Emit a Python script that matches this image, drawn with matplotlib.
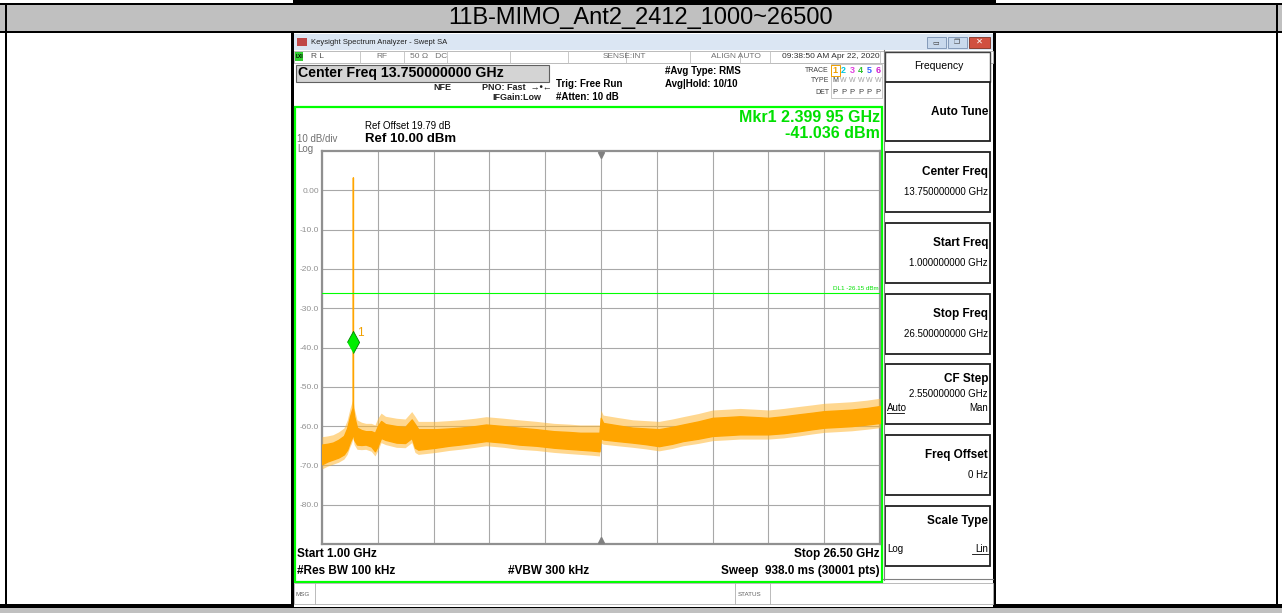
import matplotlib
matplotlib.use('Agg')
import matplotlib.pyplot as plt
import matplotlib.transforms as mtransforms
from matplotlib.patches import Rectangle

plt.rcParams['font.family'] = ['Liberation Sans', 'DejaVu Sans']

# --- values ---
title = '11B-MIMO_Ant2_2412_1000~26500'
start_ghz, stop_ghz = 1.0, 26.5
ref_level, bottom_level = 10.0, -90.0
y_labels = [0, -10, -20, -30, -40, -50, -60, -70, -80]
mkr_freq, mkr_level = 2.39995, -41.036
dl_level = -26.15

# trace: frequency (GHz), lower and upper edge of the dense noise band (dBm)
freq = [1.00, 1.25, 1.50, 1.75, 2.00, 2.15, 2.28, 2.36, 2.405, 2.412,
        2.419, 2.47, 2.60, 2.80, 3.00, 3.25, 3.42, 3.55, 3.70, 3.90,
        4.40, 4.80, 5.10, 5.25, 5.40, 6.20, 6.80, 7.30, 8.00, 8.50,
        9.30, 10.00, 10.80, 11.60, 12.30, 12.80, 13.30, 13.68, 13.74, 13.85,
        14.50, 15.20, 15.80, 16.40, 17.00, 17.50, 18.20, 18.85, 19.50, 20.10,
        20.80, 21.40, 22.10, 22.80, 23.40, 23.95, 24.60, 25.20, 25.90, 26.50]
low = [-69.7, -69.0, -68.5, -68.0, -67.2, -66.0, -64.0, -63.0, -62.0, -61.5,
       -62.0, -63.5, -64.7, -64.8, -64.7, -65.2, -66.4, -65.0, -63.0, -63.5,
       -64.2, -64.3, -63.0, -65.5, -66.0, -65.5, -65.0, -64.7, -64.2, -63.8,
       -64.2, -64.7, -65.0, -65.5, -65.8, -66.0, -66.2, -66.4, -63.0, -63.4,
       -63.8, -64.2, -64.6, -65.1, -64.5, -63.8, -63.2, -62.5, -62.3, -62.1,
       -62.1, -62.1, -61.8, -61.3, -60.8, -60.4, -60.2, -60.0, -59.6, -59.2]
high = [-64.7, -64.5, -64.2, -63.5, -62.5, -60.5, -57.5, -56.0, -55.3, 3.3,
        -55.3, -57.5, -60.4, -61.0, -61.3, -61.3, -61.7, -60.0, -58.7, -59.5,
        -60.0, -60.2, -58.3, -59.5, -60.8, -60.8, -60.6, -60.4, -60.0, -59.6,
        -60.0, -60.4, -60.8, -61.3, -61.5, -61.7, -61.7, -61.7, -57.9, -59.2,
        -59.8, -60.4, -60.6, -60.8, -60.2, -59.6, -58.8, -57.9, -57.7, -57.5,
        -57.7, -57.9, -57.5, -57.0, -56.6, -56.2, -56.0, -55.8, -55.4, -54.9]
spike_up, spike_down = 2.0, 1.2   # how far the sparse noise spikes reach past the band (dB)

softkeys = [('Center Freq', '13.750000000 GHz'), ('Start Freq', '1.000000000 GHz'),
            ('Stop Freq', '26.500000000 GHz'), ('CF Step', '2.550000000 GHz'),
            ('Freq Offset', '0 Hz'), ('Scale Type', '')]
trace_colors = ['#f0a000', '#00c8e0', '#e040e0', '#30c030', '#3060ff', '#d020d0']

W, H = 1282, 613
fig = plt.figure(figsize=(W / 100, H / 100), dpi=100)
bg = fig.add_axes([0, 0, 1, 1], zorder=0)
bg.set_xlim(0, W)
bg.set_ylim(H, 0)
bg.axis('off')

def rect(x, y, w, h, fc='none', ec='none', lw=0.0, **kw):
    bg.add_patch(Rectangle((x, y), w, h, facecolor=fc, edgecolor=ec, lw=lw, **kw))

def txt(x, y, s, size=7, **kw):
    kw.setdefault('va', 'center')
    bg.text(x, y, s, fontsize=size, **kw)

# report table around the screenshot
rect(0, 0, W, H, fc='white')
rect(293, 0, 703, 4, fc='black')
rect(0, 4, W, 28, fc='#c0c0c0')
rect(0, 3, W, 1.5, fc='black')
rect(0, 31, W, 2, fc='black')
rect(0, 604, W, 4, fc='black')
rect(0, 608, W, 5, fc='#c0c0c0')
rect(5, 3, 2, 603, fc='black')
rect(1276, 3, 2, 603, fc='black')
txt(641, 18, title, size=17, ha='center')

# screenshot frame
rect(291, 33, 705, 574, fc='white')
rect(291, 33, 3, 574, fc='black')
rect(993, 33, 3, 574, fc='black')

# window title bar
rect(294, 34, 699, 16, fc='#dbe6f3')
rect(297, 38, 10, 8, fc='#c04848')
txt(311, 42, 'Keysight Spectrum Analyzer - Swept SA', size=5.5, color='#202020')
rect(927, 37, 19, 11, fc='#c9d9ec', ec='#7890b0', lw=0.6)
rect(948, 37, 19, 11, fc='#c9d9ec', ec='#7890b0', lw=0.6)
rect(969, 37, 21, 11, fc='#d05040', ec='#803020', lw=0.6)
txt(936, 43, '▭', size=5, ha='center', color='#404040')
txt(957, 43, '❐', size=5, ha='center', color='#404040')
txt(979, 42.5, '✕', size=6, ha='center', color='white', weight='bold')

# status row
rect(294, 51, 699, 12, fc='white', ec='#b0b0b0', lw=0.6)
for xs in [360, 404, 447, 510, 568, 626, 690, 740, 770, 880]:
    bg.plot([xs, xs], [51, 63], color='#c0c0c0', lw=0.6)
rect(295, 52, 8, 9, fc='#30d030')
txt(299, 57, 'LXI', size=3.5, ha='center', color='black', weight='bold')
txt(311, 57, 'R L', size=6, color='#505050')
txt(376, 57, 'RF', size=6, color='#707070')
txt(410, 57, '50 Ω   DC', size=6, color='#707070')
txt(603, 57, 'SENSE:INT', size=6, color='#707070')
txt(711, 57, 'ALIGN AUTO', size=6, color='#707070')
txt(782, 57, '09:38:50 AM Apr 22, 2020', size=6, color='#303030')

# settings header
rect(296, 65, 253, 17, fc='#d4d4d4', ec='#606060', lw=0.8)
txt(298, 73.5, 'Center Freq 13.750000000 GHz', size=10.2, weight='bold')
txt(433, 87, 'NFE', size=6.5, weight='bold', color='#202020')
txt(482, 87, 'PNO: Fast  →•←', size=6.5, weight='bold', color='#202020')
txt(492, 98, 'IFGain:Low', size=6.5, weight='bold', color='#202020')
txt(556, 84, 'Trig: Free Run', size=7, weight='bold')
txt(556, 97, '#Atten: 10 dB', size=7, weight='bold')
txt(665, 71, '#Avg Type: RMS', size=7, weight='bold')
txt(665, 84, 'Avg|Hold: 10/10', size=7, weight='bold')
txt(829, 70, 'TRACE', size=5, ha='right', color='#404040')
txt(829, 81, 'TYPE', size=5, ha='right', color='#404040')
txt(829, 92, 'DET', size=5, ha='right', color='#404040')
rect(831, 64, 51, 34, fc='white', ec='#b0b0b0', lw=0.5)
for i, c in enumerate(trace_colors):
    txt(835 + i * 8.6, 70.5, str(i + 1), size=6.5, ha='center', color=c, weight='bold')
    txt(835 + i * 8.6, 81, 'M' if i == 0 else 'W', size=5, ha='center', color='#404040' if i == 0 else '#a0a0a0')
    txt(835 + i * 8.6, 92, 'P', size=5.5, ha='center', color='#404040')
rect(830.5, 64.5, 9, 11, ec='#f0a000', lw=0.7)

# measurement display box
rect(295, 107, 587, 475, ec='#00ff00', lw=1.6)
txt(365, 126, 'Ref Offset 19.79 dB', size=7)
txt(365, 139.5, 'Ref 10.00 dBm', size=9.5, weight='bold')
txt(297, 139.5, '10 dB/div', size=7, color='#707070')
txt(297, 149, 'Log', size=7, color='#707070')
txt(880, 118, 'Mkr1 2.399 95 GHz', size=11.5, ha='right', weight='bold', color='#00e000')
txt(880, 134, '-41.036 dBm', size=11.5, ha='right', weight='bold', color='#00e000')
txt(297, 554, 'Start 1.00 GHz', size=8.5, weight='bold')
txt(879, 554, 'Stop 26.50 GHz', size=8.5, weight='bold', ha='right')
txt(297, 571, '#Res BW 100 kHz', size=8.5, weight='bold')
txt(508, 571, '#VBW 300 kHz', size=8.5, weight='bold')
txt(880, 571, 'Sweep  938.0 ms (30001 pts)', size=8.5, weight='bold', ha='right')

# message row
rect(294, 583, 699, 21, fc='white', ec='#b0b0b0', lw=0.6)
bg.plot([315, 315], [583, 604], color='#b0b0b0', lw=0.6)
bg.plot([735, 735], [583, 604], color='#b0b0b0', lw=0.6)
bg.plot([770, 770], [583, 604], color='#b0b0b0', lw=0.6)
txt(296, 594, 'MSG', size=4.5, color='#606060')
txt(738, 594, 'STATUS', size=4.5, color='#606060')

# softkey panel
bg.plot([883.5, 883.5], [50, 580], color='#808080', lw=0.8)
bg.plot([883, 993], [579, 579], color='#808080', lw=0.8)
rect(885, 52, 105, 30, fc='white', ec='#404040', lw=1.0)
txt(939, 66, 'Frequency', size=7.5, ha='center')
rect(885, 82, 105, 59, fc='white', ec='#202020', lw=1.3)
txt(988, 112, 'Auto Tune', size=8.5, ha='right', weight='bold')
for k, (label, value) in enumerate(softkeys):
    top = 152 + k * 70.8
    rect(885, top, 105, 60, fc='white', ec='#202020', lw=1.3)
    if label == 'CF Step':
        txt(988, top + 15, label, size=8.5, ha='right', weight='bold')
        txt(988, top + 30, value, size=7, ha='right')
        txt(887, top + 44, 'Auto', size=7)
        bg.plot([887, 904], [top + 49, top + 49], color='black', lw=0.6)
        txt(988, top + 44, 'Man', size=7, ha='right')
    elif label == 'Scale Type':
        txt(988, top + 15, label, size=8.5, ha='right', weight='bold')
        txt(887, top + 43, 'Log', size=7)
        txt(988, top + 43, 'Lin', size=7, ha='right')
        bg.plot([972, 988], [top + 48, top + 48], color='black', lw=0.6)
    else:
        txt(988, top + 20, label, size=8.5, ha='right', weight='bold')
        txt(988, top + 40, value, size=7, ha='right')

# spectrum graticule
x0, x1, y0, y1 = 322, 880, 151, 544
ax = fig.add_axes([x0 / W, 1 - y1 / H, (x1 - x0) / W, (y1 - y0) / H], zorder=2)
ax.set_xlim(start_ghz, stop_ghz)
ax.set_ylim(bottom_level, ref_level)
step = (stop_ghz - start_ghz) / 10
ax.set_xticks([start_ghz + i * step for i in range(11)])
ax.set_yticks(y_labels)
ax.set_yticklabels([f'{v:.2f}' if v == 0 else f'{v:.1f}' for v in y_labels])
ax.tick_params(length=0, labelbottom=False, labelsize=6, labelcolor='#909090', pad=2)
ax.grid(True, color='#a8a8a8', lw=0.8)
for s in ax.spines.values():
    s.set_color('#909090')
    s.set_linewidth(1.6)

ax.fill_between(freq, [v - spike_down for v in low], [h + spike_up for h in high],
                color='#ffb733', alpha=0.55, lw=0, zorder=3)
ax.fill_between(freq, low, high, color='#ffa500', lw=1.0, edgecolor='#ffa500', zorder=4)
ax.axhline(dl_level, color='#00ff00', lw=0.8, zorder=5)
ax.text(stop_ghz - 0.05, dl_level + 0.6, f'DL1 {dl_level:.2f} dBm', fontsize=4.5,
        color='#00e000', ha='right', va='bottom', zorder=6)

center = (start_ghz + stop_ghz) / 2
down = mtransforms.offset_copy(ax.transData, fig, y=-4, units='dots')
up = mtransforms.offset_copy(ax.transData, fig, y=4, units='dots')
ax.plot([center], [ref_level], marker='v', ms=5, color='#808080', transform=down, clip_on=False, zorder=6)
ax.plot([center], [bottom_level], marker='^', ms=5, color='#808080', transform=up, clip_on=False, zorder=6)

mk = mtransforms.offset_copy(ax.transData, fig, y=10, units='dots')
ax.plot([mkr_freq], [mkr_level], marker=[(0, -1), (0.55, 0), (0, 1), (-0.55, 0)], ms=16,
        mfc='#00ee00', mec='#008000', mew=0.6, transform=mk, zorder=7)
lab = mtransforms.offset_copy(ax.transData, fig, x=8, y=19, units='dots')
ax.text(mkr_freq, mkr_level, '1', color='#f0a000', fontsize=8.5, transform=lab,
        ha='center', va='center', zorder=7)

fig.savefig('out.png', dpi=100)
